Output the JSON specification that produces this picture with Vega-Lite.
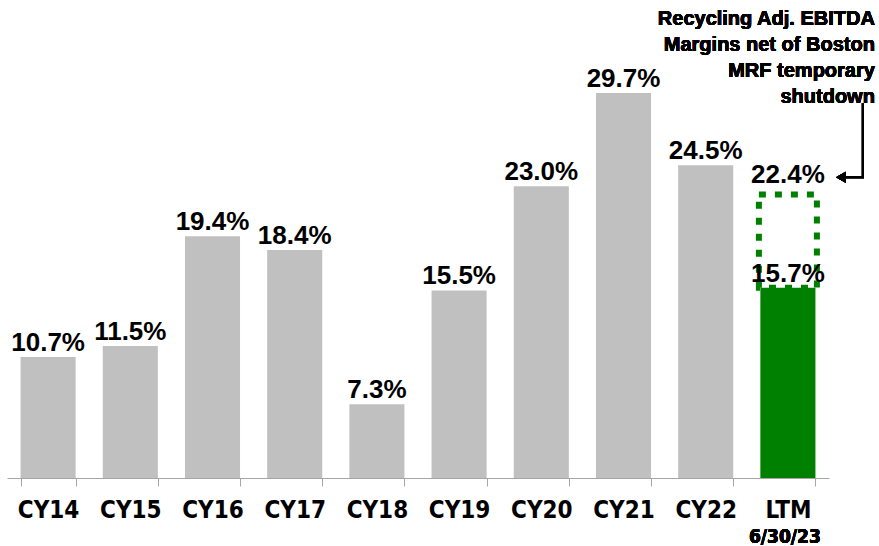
{
  "$schema": "https://vega.github.io/schema/vega-lite/v6.json",
  "width": 822,
  "height": 478,
  "autosize": {"type": "none"},
  "padding": {"left": 7, "top": 0, "right": 50, "bottom": 68},
  "background": "white",
  "config": {"view": {"stroke": null}},
  "data": {
    "values": [
      {"cat": "CY14", "v": 10.7},
      {"cat": "CY15", "v": 11.5},
      {"cat": "CY16", "v": 19.4},
      {"cat": "CY17", "v": 18.4},
      {"cat": "CY18", "v": 7.3},
      {"cat": "CY19", "v": 15.5},
      {"cat": "CY20", "v": 23.0},
      {"cat": "CY21", "v": 29.7},
      {"cat": "CY22", "v": 24.5},
      {"cat": "LTM", "v": 15.7, "adj": 22.4}
    ]
  },
  "encoding": {
    "x": {
      "field": "cat",
      "type": "nominal",
      "sort": null,
      "scale": {"paddingInner": 0.33, "paddingOuter": 0.165},
      "axis": {
        "title": null,
        "labelAngle": 0,
        "domainColor": "#a6a6a6",
        "tickColor": "#a6a6a6",
        "tickSize": 8,
        "tickBand": "extent",
        "labelFont": "DejaVu Sans Condensed, Liberation Sans",
        "labelFontSize": 24,
        "labelFontWeight": "bold",
        "labelColor": "#000000",
        "labelPadding": 12
      }
    }
  },
  "layer": [
    {
      "mark": {"type": "bar"},
      "encoding": {
        "y": {"field": "v", "type": "quantitative", "scale": {"domain": [2, 36.4], "nice": false, "zero": false}, "axis": null},
        "y2": {"datum": 2},
        "color": {"condition": {"test": "datum.cat === 'LTM'", "value": "#008000"}, "value": "#c0c0c0"}
      }
    },
    {
      "transform": [{"filter": "isValid(datum.adj)"}],
      "mark": {"type": "bar", "fill": null, "fillOpacity": 0, "stroke": "#008000", "strokeWidth": 6, "strokeDash": [7, 9], "width": 58},
      "encoding": {
        "y": {"field": "v", "type": "quantitative"},
        "y2": {"field": "adj"}
      }
    },
    {
      "transform": [{"calculate": "format(datum.v, '.1f') + '%'", "as": "label"}],
      "mark": {"type": "text", "font": "Liberation Sans", "fontSize": 26, "fontWeight": "bold", "color": "#000000", "baseline": "alphabetic", "dy": -6},
      "encoding": {
        "y": {"field": "v", "type": "quantitative"},
        "text": {"field": "label"}
      }
    },
    {
      "transform": [{"filter": "isValid(datum.adj)"}, {"calculate": "format(datum.adj, '.1f') + '%'", "as": "label"}],
      "mark": {"type": "text", "font": "Liberation Sans", "fontSize": 26, "fontWeight": "bold", "color": "#000000", "baseline": "alphabetic", "dy": -12},
      "encoding": {
        "y": {"field": "adj", "type": "quantitative"},
        "text": {"field": "label"}
      }
    },
    {
      "mark": {"type": "text", "font": "Liberation Sans", "fontSize": 20, "fontWeight": "bold", "color": "#000000", "align": "right", "baseline": "alphabetic", "lineHeight": 26, "dx": 87},
      "encoding": {
        "x": {"datum": "LTM"},
        "y": {"datum": 34.6},
        "text": {"value": ["Recycling Adj. EBITDA", "Margins net of Boston", "MRF temporary", "shutdown"]}
      }
    },
    {
      "mark": {"type": "rule", "color": "#000000", "strokeWidth": 2, "xOffset": 75},
      "encoding": {
        "x": {"datum": "LTM"},
        "y": {"datum": 28.98},
        "y2": {"datum": 23.65}
      }
    },
    {
      "mark": {"type": "rule", "color": "#000000", "strokeWidth": 2, "xOffset": 56, "x2Offset": 76},
      "encoding": {
        "x": {"datum": "LTM"},
        "x2": {"datum": "LTM"},
        "y": {"datum": 23.65}
      }
    },
    {
      "mark": {"type": "point", "shape": "triangle-left", "filled": true, "color": "#000000", "opacity": 1, "size": 120, "xOffset": 53},
      "encoding": {
        "x": {"datum": "LTM"},
        "y": {"datum": 23.65}
      }
    },
    {
      "mark": {"type": "text", "font": "DejaVu Sans Condensed, Liberation Sans", "fontSize": 19, "fontWeight": "bold", "color": "#000000", "baseline": "alphabetic", "dx": -3},
      "encoding": {
        "x": {"datum": "LTM"},
        "y": {"datum": -2.7},
        "text": {"value": "6/30/23"}
      }
    }
  ]
}
